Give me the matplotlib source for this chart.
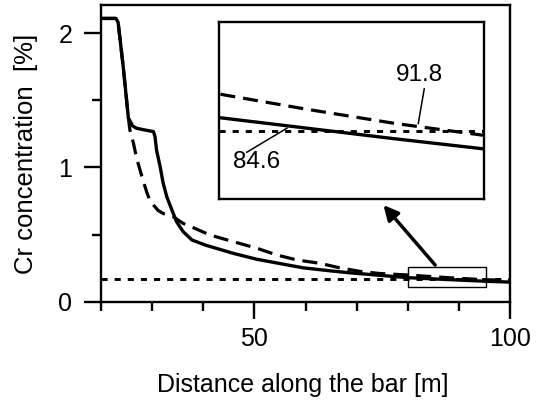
import numpy as np
import matplotlib.pyplot as plt
from matplotlib.patches import Rectangle
from matplotlib.ticker import MultipleLocator, FixedLocator

plt.rcParams['font.family'] = ['Liberation Sans', 'DejaVu Sans']

# distance along bar [m] and Cr concentration [%]
x_solid = [20, 23.0, 23.4, 24.4, 25.4, 26.2, 27.0, 28.5, 30.3, 30.6, 30.9, 31.6, 32.2,
           32.9, 33.9, 34.8, 36.1, 37.8, 40.4, 45.9, 50.5, 55.0, 59.6, 64.8, 68.7,
           75, 80, 85, 90, 95, 100]
y_solid = [2.11, 2.11, 2.08, 1.75, 1.37, 1.31, 1.292, 1.28, 1.267, 1.23, 1.13, 1.006, 0.882,
           0.782, 0.683, 0.596, 0.522, 0.46, 0.422, 0.36, 0.316, 0.284, 0.252, 0.23, 0.215,
           0.195, 0.179, 0.170, 0.161, 0.1525, 0.146]

x_dash = [20, 23.0, 23.4, 24.4, 25.4, 25.7, 26.4, 27.0, 28.3, 29.0, 29.6, 30.3, 31.2,
          32.2, 34.2, 36.1, 38.4, 41.4, 45.9, 50.5, 54.4, 58.3, 62.8, 66.7, 70.6,
          74.5, 80, 85, 90, 95, 100]
y_dash = [2.11, 2.11, 2.08, 1.75, 1.37, 1.28, 1.18, 1.07, 0.90, 0.815, 0.755, 0.72, 0.68,
          0.657, 0.632, 0.583, 0.546, 0.496, 0.447, 0.398, 0.348, 0.311, 0.286, 0.252, 0.226,
          0.21, 0.199, 0.186, 0.174, 0.164, 0.158]

y_level = 0.168   # dotted reference level
cross_solid = 84.6
cross_dash = 91.8

fig = plt.figure(figsize=(5.44, 4.04), dpi=100)
ax = fig.add_axes([0.1851, 0.2532, 0.7533, 0.7344])


def draw_lines(a):
    a.plot(x_solid, y_solid, color='k', lw=2.4, solid_capstyle='butt', zorder=3)
    a.plot(x_dash, y_dash, color='k', lw=2.3, linestyle=(0, (4.7, 2.5)), zorder=3)
    a.axhline(y_level, color='k', lw=2.1, linestyle=(0, (2.1, 2.4)), zorder=2)


draw_lines(ax)
ax.set_xlim(20, 100)
ax.set_ylim(0, 2.21)
ax.xaxis.set_major_locator(FixedLocator([50, 100]))
ax.xaxis.set_minor_locator(MultipleLocator(10))
ax.yaxis.set_major_locator(FixedLocator([0, 1, 2]))
ax.yaxis.set_minor_locator(FixedLocator([0.5, 1.5]))
ax.tick_params(which='major', direction='out', length=12.5, width=1.7, labelsize=18)
ax.tick_params(axis='x', which='major', pad=6)
ax.tick_params(axis='y', which='major', pad=8)
ax.tick_params(which='minor', direction='out', length=6.5, width=1.7)
for s in ax.spines.values():
    s.set_linewidth(1.7)

ax.set_xlabel('Distance along the bar [m]', fontsize=18, va='center')
ax.xaxis.set_label_coords(0.494, -0.28)
ax.set_ylabel('Cr concentration  [%]', fontsize=18.5, va='center')
ax.yaxis.set_label_coords(-0.183, 0.4995)

# zoom box and arrow
ax.add_patch(Rectangle((80, 0.109), 15.2, 0.148, fill=False, lw=1.0, color='k', zorder=4))
ax.annotate('', xy=(75.2, 0.72), xytext=(85.3, 0.273),
            arrowprops=dict(arrowstyle='-|>', lw=2.5, color='k', mutation_scale=22,
                            shrinkA=0, shrinkB=0))

# inset
axin = fig.add_axes([0.4026, 0.5074, 0.4862, 0.4381])
draw_lines(axin)
axin.set_xlim(80, 95)
axin.set_ylim(0.11, 0.26)
axin.set_xticks([])
axin.set_yticks([])
for s in axin.spines.values():
    s.set_linewidth(1.7)

axin.text(91.35, 0.2147, f'{cross_dash}', fontsize=17.5, ha='center', va='center')
axin.plot([91.64, 91.3], [0.2034, 0.174], color='k', lw=1.1)
axin.text(82.14, 0.141, f'{cross_solid}', fontsize=17.5, ha='center', va='center')
axin.plot([81.57, 83.85], [0.1496, 0.170], color='k', lw=1.1)

fig.savefig('out.png', dpi=100)
